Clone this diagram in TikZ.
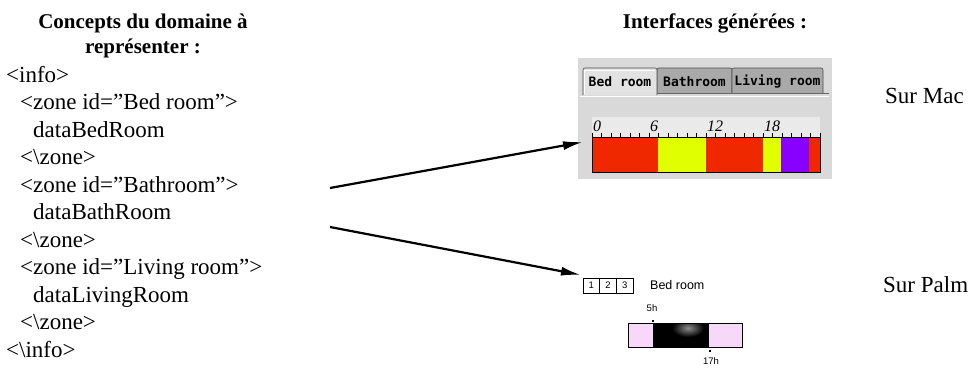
\documentclass[tikz,border=0pt]{standalone}
\usepackage{fontspec}
\setmainfont{Liberation Serif}
\newfontfamily\tabfont{DejaVu Sans Mono}
\newfontfamily\palmfont{Liberation Sans}
\usetikzlibrary{arrows.meta}
\definecolor{macbg}{HTML}{D9D9D9}
\definecolor{tabsel}{HTML}{E2E2E2}
\definecolor{tabun}{HTML}{A9A9A9}
\definecolor{tickbg}{HTML}{EAEAEA}
\definecolor{barred}{HTML}{F02800}
\definecolor{baryel}{HTML}{E0FF00}
\definecolor{barpur}{HTML}{8800FF}
\definecolor{palmpink}{HTML}{F8D8F8}
\begin{document}
\begin{tikzpicture}[x=1pt,y=-1pt,
  codeline/.style={anchor=base west, inner sep=0pt, font=\fontsize{23}{26}\selectfont},
  heading/.style={anchor=base, inner sep=0pt, font=\fontsize{21}{24}\selectfont\bfseries},
  label/.style={anchor=base west, inner sep=0pt, font=\fontsize{23}{26}\selectfont},
  tabbox/.style={draw=black!70, line width=0.6pt},
  tabtext/.style={inner sep=0pt, font=\tabfont\bfseries\fontsize{13}{14}\selectfont},
  ticklab/.style={anchor=base west, inner sep=0pt, font=\itshape\fontsize{16}{17}\selectfont},
  palmtext/.style={inner sep=0pt, font=\palmfont\fontsize{12.5}{14}\selectfont},
  palmsmall/.style={inner sep=0pt, font=\palmfont\fontsize{9.5}{10}\selectfont},
  bigarrow/.style={line width=2.2pt, -{Latex[length=20pt,width=9pt]}}
]
\useasboundingbox (0,0) rectangle (970,378);

% headings
\node[heading] (h1) at (143,28) {Concepts du domaine à};
\node[heading] (h2) at (143,53) {représenter :};
\node[heading] (h3) at (715,28) {Interfaces générées :};

% code lines
\node[codeline] (l1)  at (6,82)    {<info>};
\node[codeline] (l2)  at (20,109.5) {<zone id=”Bed room”>};
\node[codeline] (l3)  at (33,137)  {dataBedRoom};
\node[codeline] (l4)  at (20,164.5) {<\textbackslash zone>};
\node[codeline] (l5)  at (20,192)  {<zone id=”Bathroom”>};
\node[codeline] (l6)  at (33,219.5) {dataBathRoom};
\node[codeline] (l7)  at (20,247)  {<\textbackslash zone>};
\node[codeline] (l8)  at (20,274.5) {<zone id=”Living room”>};
\node[codeline] (l9)  at (33,302)  {dataLivingRoom};
\node[codeline] (l10) at (20,329.5) {<\textbackslash zone>};
\node[codeline] (l11) at (6,357)   {<\textbackslash info>};

% Mac interface
\fill[macbg] (578,58) rectangle (832,179);
\draw[tabbox, fill=tabun, rounded corners=2pt] (657,93) -- (657,68) -- (732,68) -- (732,93);
\draw[tabbox, fill=tabun, rounded corners=2pt] (732,93) -- (732,68) -- (823,68) -- (823,93);
\draw[tabbox, fill=tabsel, rounded corners=2pt] (583,95) -- (583,68) -- (657,68) -- (657,95);
\draw[black!60, line width=0.8pt] (657,93.5) -- (829,93.5);
\draw[white, line width=0.6pt] (580,96) -- (829,96);
\draw[white, line width=0.6pt] (584.5,94) -- (584.5,70) -- (655,70);
\node[tabtext] (t1) at (620,82) {Bed room};
\node[tabtext] (t2) at (694.5,82) {Bathroom};
\node[tabtext] (t3) at (777.5,82) {Living room};

\fill[tickbg] (592,117) rectangle (820,137);
\foreach \h in {0,...,24} {
  \draw[black, line width=0.7pt] ({592+9.5*\h},132.5) -- ({592+9.5*\h},137);
}
\node[ticklab] (k0)  at (593,131) {0};
\node[ticklab] (k6)  at (650,131) {6};
\node[ticklab] (k12) at (707,131) {12};
\node[ticklab] (k18) at (764,131) {18};

\fill[barred] (592,137) rectangle (658,172);
\fill[baryel] (658,137) rectangle (706,172);
\fill[barred] (706,137) rectangle (763,172);
\fill[baryel] (763,137) rectangle (781,172);
\fill[barpur] (781,137) rectangle (809,172);
\fill[barred] (809,137) rectangle (820,172);
\draw[black, line width=0.9pt] (592,137) rectangle (820,172);

% Palm interface
\draw[black, line width=0.7pt] (583,278) rectangle (633,293);
\draw[black, line width=0.7pt] (599.7,278) -- (599.7,293);
\draw[black, line width=0.7pt] (616.3,278) -- (616.3,293);
\node[palmsmall] (p1) at (591.3,285.5) {1};
\node[palmsmall] (p2) at (608,285.5) {2};
\node[palmsmall] (p3) at (624.7,285.5) {3};
\node[palmtext, anchor=west] (pb) at (650,285.5) {Bed room};
\node[palmsmall] (p5h) at (652,308) {5h};
\node[palmsmall] (p17h) at (711,361) {17h};
\fill[palmpink] (628,323) rectangle (653,347);
\fill[palmpink] (708,323) rectangle (742,347);
\fill[black] (653,323) rectangle (708,347);
\begin{scope}
  \clip (653,323) rectangle (708,347);
  \shade[inner color=black!45, outer color=black] (688,328) ellipse (16pt and 9pt);
\end{scope}
\draw[black, line width=0.8pt] (628,323) rectangle (742,347);
\draw[black, line width=0.8pt] (653,323) -- (653,347);
\draw[black, line width=0.8pt] (708,323) -- (708,347);
\fill[black] (652,320) rectangle (654,322);
\fill[black] (709,350) rectangle (711,352);

% side labels
\node[label] (smac) at (885,103) {Sur Mac};
\node[label] (spalm) at (883,292) {Sur Palm};

% arrows
\coordinate (a1s) at (330,188);
\coordinate (a1e) at (583,142);
\coordinate (a2s) at (330,227);
\coordinate (a2e) at (581,275);
\draw[bigarrow] (a1s) -- (a1e);
\draw[bigarrow] (a2s) -- (a2e);
\end{tikzpicture}
\end{document}
